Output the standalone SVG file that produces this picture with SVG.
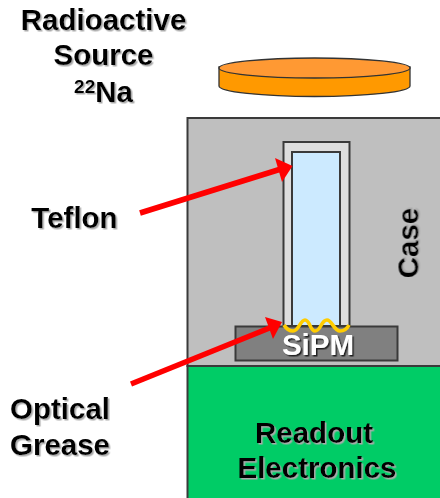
<svg xmlns="http://www.w3.org/2000/svg" width="440" height="498" viewBox="0 0 440 498">
<defs>
<style>
.t{font-family:"Liberation Sans",Arial,sans-serif;font-weight:700;font-size:29.500px;fill:#000;text-anchor:middle}
.box{stroke:#3a3a3a;stroke-width:2}
.arrow{stroke:#f00;stroke-width:5.500;fill:none}
.head{fill:#f00}
</style>
<filter id="sh" x="-10%" y="-10%" width="120%" height="130%"><feDropShadow dx="1.500" dy="1.500" stdDeviation="0.600" flood-color="#aaa"/></filter>
<filter id="shd" x="-10%" y="-10%" width="120%" height="130%"><feDropShadow dx="1.500" dy="1.500" stdDeviation="0.400" flood-color="#222"/></filter>
</defs>
<g id="case"><rect class="box" x="187.500" y="118" width="254" height="248" fill="#bfbfbf"/>
<text class="t" transform="translate(418.500,243) rotate(-90)" filter="url(#sh)">Case</text></g>
<g id="source">
<path d="M219 67V86A95.500 10.500 0 0 0 410 86V67Z" fill="#f90" stroke="#333" stroke-width="1.300"/>
<ellipse cx="314.500" cy="68" rx="95.500" ry="10" fill="#f93" stroke="#333" stroke-width="1.300"/>
</g>
<g id="teflon"><rect class="box" x="283.500" y="142" width="66" height="184" fill="#ddd"/></g>
<g id="crystal"><rect class="box" x="292" y="152" width="48" height="174" fill="#cceaff"/></g>
<g id="sipm"><rect class="box" x="235.500" y="326.500" width="162" height="34" fill="#808080"/>
<text class="t" x="318" y="355" style="fill:#fff" filter="url(#shd)">SiPM</text></g>
<g id="grease"><path d="M284 325C287 330 290 331 293 331C299 331 300 320 305 320C310 320 310 331 315 331C321 331 321 320 327 320C332 320 334 331 340 331C344 331 347 329 349 325" fill="none" stroke="#fc0" stroke-width="3.600"/></g>
<g id="electronics"><rect class="box" x="187.500" y="366" width="254" height="133" fill="#0c6"/>
<text class="t" filter="url(#sh)"><tspan x="314" y="443">Readout</tspan><tspan x="317" y="478">Electronics</tspan></text></g>
<g id="labels" filter="url(#sh)">
<text class="t" x="103.500" y="30">Radioactive</text>
<text class="t" x="103.500" y="65">Source</text>
<text class="t" x="103.500" y="102"><tspan font-size="19" dy="-9">22</tspan><tspan dy="9">Na</tspan></text>
<text class="t" x="74.500" y="228">Teflon</text>
<text class="t" x="60" y="419">Optical</text>
<text class="t" x="60" y="455">Grease</text>
</g>
<g id="connectors">
<line class="arrow" x1="140" y1="213" x2="281" y2="169"/>
<polygon class="head" points="292.500,166 275,158 282,182"/>
<line class="arrow" x1="131" y1="384" x2="272" y2="327"/>
<polygon class="head" points="282,322 265,317 273,339"/>
</g>
</svg>
